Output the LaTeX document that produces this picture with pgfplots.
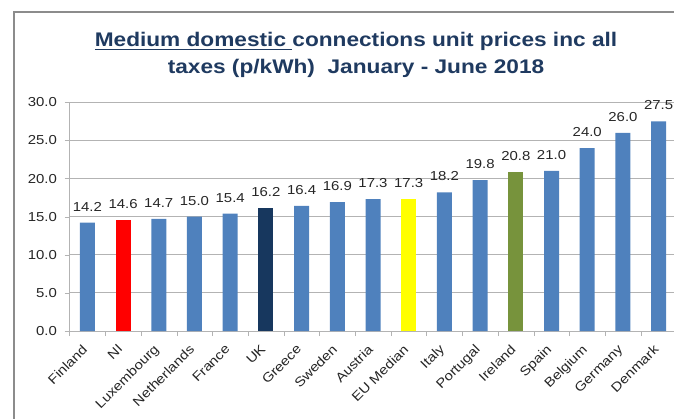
\documentclass[border=0pt]{standalone}
\usepackage{fontspec}
\setmainfont{Liberation Sans}[FakeStretch=1.15]
\usepackage{pgfplots}
\pgfplotsset{compat=1.18}
\definecolor{barblue}{HTML}{4F81BD}
\definecolor{barred}{HTML}{FF0000}
\definecolor{barnavy}{HTML}{17375E}
\definecolor{baryellow}{HTML}{FFFF00}
\definecolor{bargreen}{HTML}{77933C}
\definecolor{titleblue}{HTML}{1F3A60}
\definecolor{gridgray}{HTML}{B3B3B3}
\definecolor{framegray}{HTML}{8C8C8C}
\newsavebox{\ulbox}
\newcommand{\ul}[1]{\sbox{\ulbox}{#1}\rlap{\rule[-3.5pt]{\wd\ulbox}{1.6pt}}\usebox{\ulbox}}

\begin{document}
\begin{tikzpicture}
\useasboundingbox (0pt,0pt) rectangle (674pt,-419pt);
\draw[framegray,line width=1.5pt] (14pt,-425pt) -- (14pt,-12pt) -- (690pt,-12pt);
\node[anchor=base,text=titleblue,inner sep=0pt,font=\fontsize{19.7}{24}\selectfont\bfseries]
  at (356pt,-47pt) {\ul{Medium domestic }connections unit prices inc all};
\node[anchor=base,text=titleblue,inner sep=0pt,font=\fontsize{19.7}{24}\selectfont\bfseries]
  at (356pt,-74pt) {taxes (p/kWh)\ \ January - June 2018};
\begin{axis}[
  at={(69.5pt,-331pt)}, anchor=south west,
  width=607pt, height=228.7pt, scale only axis,
  xmin=-0.5, xmax=16.5, ymin=0, ymax=30,
  ytick={0,5,...,30},
  xtick={0,...,16},
  xticklabels={Finland,NI,Luxembourg,Netherlands,France,UK,Greece,Sweden,Austria,EU Median,Italy,Portugal,Ireland,Spain,Belgium,Germany,Denmark},
  minor xtick={-0.5,0.5,...,16.5},
  major x tick style={draw=none},
  tick align=outside,
  major tick length=5pt, minor tick length=5pt,
  tick style={gridgray},
  xtick pos=bottom, ytick pos=left,
  axis x line*=bottom, axis y line*=left,
  axis line style={-,gridgray,line width=0.8pt},
  ymajorgrids, grid style={gridgray,line width=0.8pt},
  yticklabel style={font=\fontsize{13}{15}\selectfont, text=black!85, xshift=-4pt},
  xticklabel style={font=\fontsize{13}{15}\selectfont, text=black!85, xshift=-6pt, yshift=-6pt, rotate=45, anchor=north east, inner sep=1pt},
  /pgf/number format/.cd, fixed, fixed zerofill, precision=1, assume math mode=true, /pgfplots/.cd,
  ybar, bar width=15pt,
  nodes near coords,
  nodes near coords style={font=\fontsize{13}{15}\selectfont, text=black!85, anchor=base, inner sep=0pt, yshift=11.5pt,
    /pgf/number format/.cd, fixed, fixed zerofill, precision=1},
  clip=false,
]
\addplot[fill=barblue,draw=none,bar shift=0pt] coordinates {
  (0,14.2) (2,14.7) (3,15.0) (4,15.4) (6,16.4) (7,16.9) (8,17.3)
  (10,18.2) (11,19.8) (13,21.0) (14,24.0) (15,26.0) (16,27.5)};
\addplot[fill=barred,draw=none,bar shift=0pt] coordinates {(1,14.6)};
\addplot[fill=barnavy,draw=none,bar shift=0pt] coordinates {(5,16.2)};
\addplot[fill=baryellow,draw=none,bar shift=0pt] coordinates {(9,17.3)};
\addplot[fill=bargreen,draw=none,bar shift=0pt] coordinates {(12,20.8)};
\end{axis}
\end{tikzpicture}
\end{document}
